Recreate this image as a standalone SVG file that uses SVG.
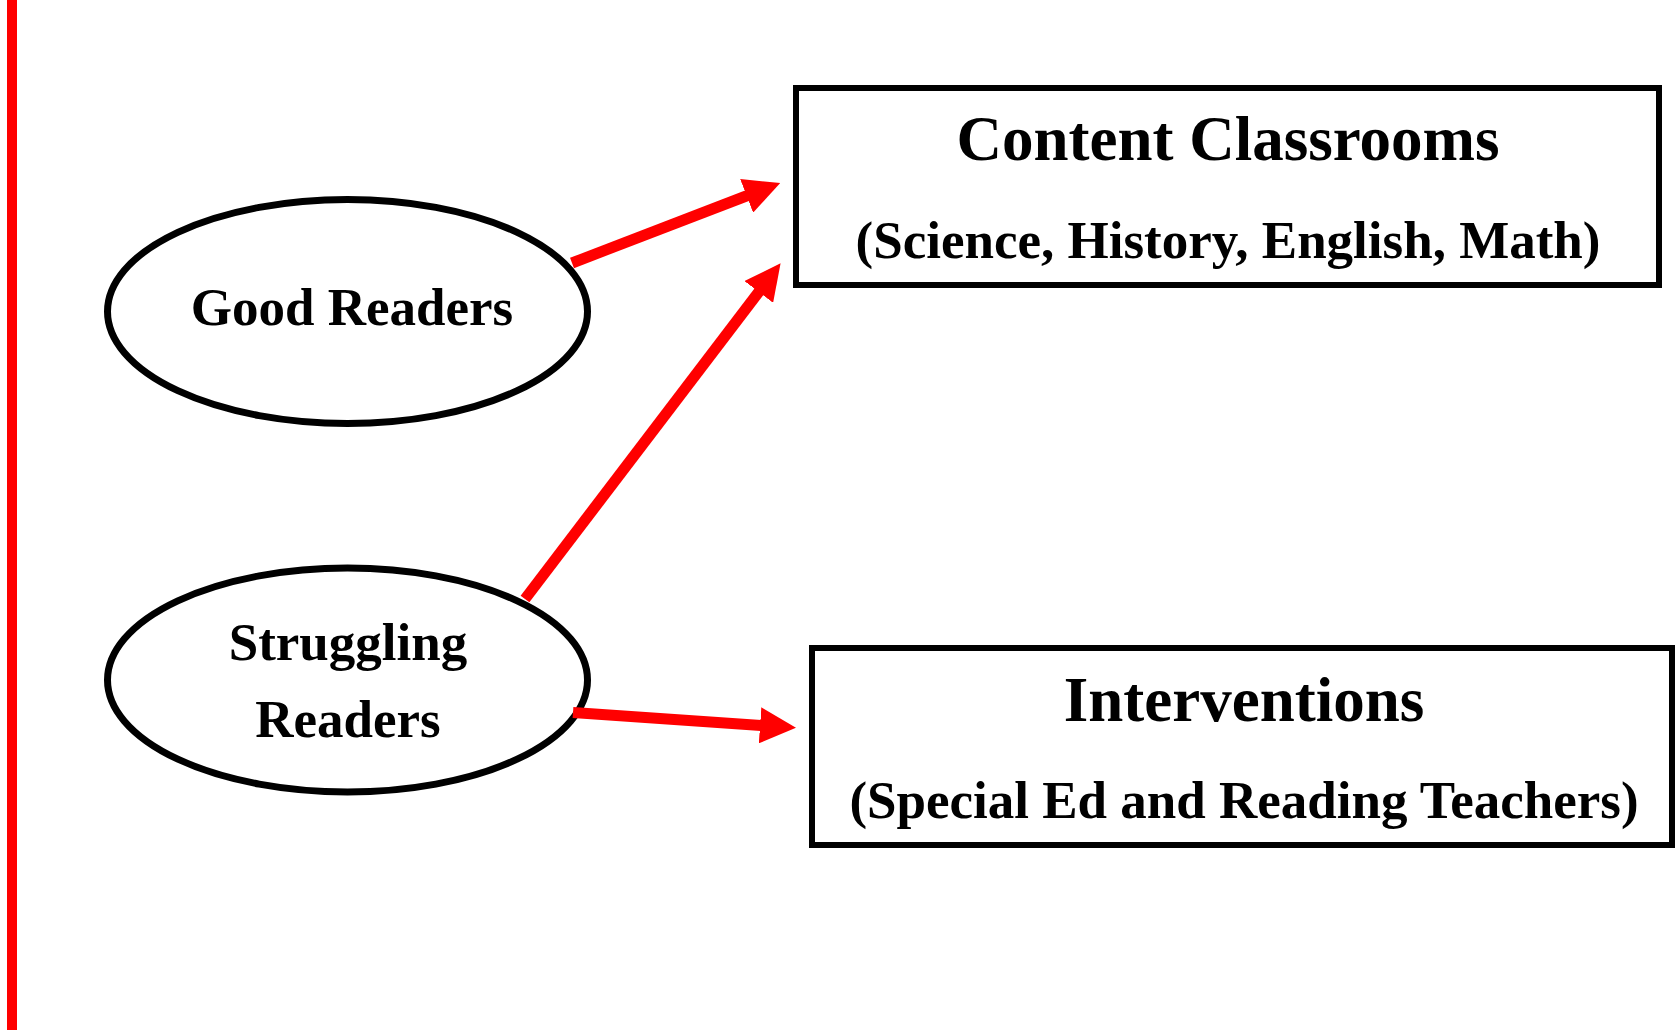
<svg xmlns="http://www.w3.org/2000/svg" width="1675" height="1030" viewBox="0 0 1675 1030">
  <style>
    .node { fill: #ffffff; stroke: #000000; stroke-width: 7; }
    .box { fill: #ffffff; stroke: #000000; stroke-width: 6; }
    .t { font-family: "Liberation Serif", "Times New Roman", serif; font-weight: bold; fill: #000000; text-anchor: middle; }
    .big { font-size: 63px; }
    .mid { font-size: 53px; }
    .conn { stroke: #ff0000; stroke-width: 11; fill: none; stroke-linecap: butt; }
  </style>
  <defs>
    <marker id="head" markerUnits="userSpaceOnUse" markerWidth="36" markerHeight="36" viewBox="0 0 35 35" refX="1" refY="17.5" orient="auto">
      <path d="M0,0 L35,17.5 L0,35 z" fill="#ff0000"/>
    </marker>
  </defs>
  <rect width="1675" height="1030" fill="#ffffff"/>
  <line x1="12" y1="0" x2="12" y2="1030" stroke="#ff0000" stroke-width="10"/>

  <g id="good-readers">
    <ellipse class="node" cx="347.5" cy="311.5" rx="240" ry="112"/>
    <text class="t mid" x="352" y="325">Good Readers</text>
  </g>

  <g id="struggling-readers">
    <ellipse class="node" cx="347.5" cy="680" rx="240" ry="112"/>
    <text class="t mid" x="348" y="660">Struggling</text>
    <text class="t mid" x="348" y="737">Readers</text>
  </g>

  <g id="content-classrooms">
    <rect class="box" x="796" y="88" width="863" height="197"/>
    <text class="t big" x="1228" y="160">Content Classrooms</text>
    <text class="t mid" x="1228" y="258">(Science, History, English, Math)</text>
  </g>

  <g id="interventions">
    <rect class="box" x="812" y="648" width="860" height="197"/>
    <text class="t big" x="1244" y="721">Interventions</text>
    <text class="t mid" x="1244" y="818">(Special Ed and Reading Teachers)</text>
  </g>

  <g id="connectors">
    <line class="conn" x1="572" y1="263" x2="747.6" y2="195.5" marker-end="url(#head)"/>
    <line class="conn" x1="525" y1="599" x2="759.4" y2="291.1" marker-end="url(#head)"/>
    <line class="conn" x1="573" y1="712.5" x2="761.1" y2="725.4" marker-end="url(#head)"/>
  </g>
</svg>
